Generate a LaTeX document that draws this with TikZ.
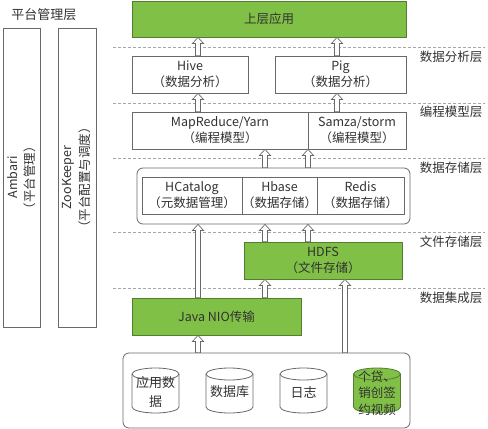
\documentclass[tikz,border=0pt]{standalone}
\usepackage{fontspec}
\setmainfont{Noto Sans CJK SC}
\usetikzlibrary{calc}
\definecolor{gfill}{RGB}{128,192,70}
\definecolor{gline}{RGB}{85,125,50}
\definecolor{bline}{RGB}{105,105,105}
\definecolor{txt}{RGB}{50,50,50}
\definecolor{dashc}{RGB}{165,165,165}
\newcommand\mycyl[2]{%
  \draw[draw=#2line, fill=#2fill, line width=0.8pt] (#1-23.5,374) -- (#1-23.5,407) arc (180:360:23.5pt and 6pt) -- (#1+23.5,374) arc (0:180:23.5pt and 6pt) -- cycle;
  \draw[draw=#2line, line width=0.8pt] (#1-23.5,374) arc (180:360:23.5pt and 6pt);}
\definecolor{wfill}{RGB}{255,255,255}
\definecolor{wline}{RGB}{105,105,105}
\begin{document}
\begin{tikzpicture}[x=1pt,y=-1pt, font=\fontsize{12.5}{16}\selectfont, text=txt,
  box/.style={draw=bline, line width=0.8pt, fill=white, inner sep=0pt, align=center},
  gbox/.style={box, draw=gline, fill=gfill},
  layerlabel/.style={inner sep=0pt, font=\fontsize{12.5}{13}\selectfont},
  sepline/.style={draw=dashc, dash pattern=on 3pt off 2pt, line width=0.7pt},
  harrow/.style={draw=bline, fill=white, line width=0.7pt,
    to path={let \p1=(\tikztostart), \p2=(\tikztotarget) in
      (\x1-2.5pt,\y1) -- (\x1-2.5pt,\y2-6pt) -- (\x1-5.5pt,\y2-6pt) -- (\x1,\y2)
      -- (\x1+5.5pt,\y2-6pt) -- (\x1+2.5pt,\y2-6pt) -- (\x1+2.5pt,\y1) -- cycle}}
]
\useasboundingbox (0,0) rectangle (488,429);

% separators
\draw[sepline] (113,47) -- (485,47);
\draw[sepline] (113,103) -- (485,103);
\draw[sepline] (113,158) -- (485,158);
\draw[sepline] (113,232) -- (485,232);
\draw[sepline] (113,288) -- (485,288);

% layer labels
\node[layerlabel] (l1) at (451,57) {数据分析层};
\node[layerlabel] (l2) at (451,112) {编程模型层};
\node[layerlabel] (l3) at (451,168) {数据存储层};
\node[layerlabel] (l4) at (451,242) {文件存储层};
\node[layerlabel] (l5) at (451,298) {数据集成层};

% platform management
\node[layerlabel, font=\fontsize{13}{14}\selectfont] (title) at (44,15) {平台管理层};
\node[box, rotate=90, minimum width=299, minimum height=37, font=\fontsize{12.5}{17}\selectfont] (ambari) at (21.5,177.5) {Ambari\\（平台管理）};
\node[box, rotate=90, minimum width=299, minimum height=38, font=\fontsize{12.5}{18}\selectfont] (zk) at (77,177.5) {ZooKeeper\\（平台配置与调度）};

% main stack
\node[gbox, minimum width=274, minimum height=36] (app) at (269,19) {上层应用};
\node[box, minimum width=116, minimum height=37] (hive) at (190,74.5) {Hive\\（数据分析）};
\node[box, minimum width=131, minimum height=37] (pig) at (340.5,74.5) {Pig\\（数据分析）};
\node[box, minimum width=176, minimum height=37] (mr) at (220,130.5) {MapReduce/Yarn\\（编程模型）};
\node[box, minimum width=98, minimum height=37] (samza) at (357,130.5) {Samza/storm\\（编程模型）};

\node[box, rounded corners=6pt, minimum width=273, minimum height=56] (store) at (273.5,196) {};
\node[box, minimum width=100, minimum height=37] (hcat) at (192,195.5) {HCatalog\\（元数据管理）};
\node[box, minimum width=75, minimum height=37] (hbase) at (279.5,195.5) {Hbase\\（数据存储）};
\node[box, minimum width=87, minimum height=37] (redis) at (360.5,195.5) {Redis\\（数据存储）};

\node[gbox, minimum width=158, minimum height=37] (hdfs) at (323,260.5) {HDFS\\（文件存储）};
\node[gbox, minimum width=169, minimum height=37] (java) at (216.5,316.5) {Java NIO传输};

\node[box, rounded corners=6pt, minimum width=287, minimum height=75] (src) at (266.5,390.5) {};

% cylinders
\mycyl{155.5}{w}
\mycyl{229.5}{w}
\mycyl{303.5}{w}
\mycyl{377}{g}
\node[align=center, inner sep=0pt, font=\fontsize{13}{19}\selectfont] (c1) at (155.5,392) {应用数\\据};
\node[align=center, inner sep=0pt, font=\fontsize{13}{16}\selectfont] (c2) at (229.5,392) {数据库};
\node[align=center, inner sep=0pt, font=\fontsize{13}{16}\selectfont] (c3) at (303.5,392) {日志};
\node[align=center, inner sep=0pt, font=\fontsize{12.5}{16.5}\selectfont] (c4) at (377,393) {个贷、\\销创签\\约视频};

% arrow columns
\coordinate (xa) at (198,0);
\coordinate (xb) at (337,0);
\coordinate (xc) at (265,0);
\coordinate (xd) at (308,0);
\coordinate (xe) at (345,0);

\path[harrow] (hive.north -| xa) to (app.south -| xa);
\path[harrow] (pig.north -| xb) to (app.south -| xb);
\path[harrow] (mr.north -| xa) to (hive.south -| xa);
\path[harrow] (samza.north -| xb) to (pig.south -| xb);
\path[harrow] (store.north -| xc) to (mr.south -| xc);
\path[harrow] (store.north -| xd) to (samza.south -| xd);
\path[harrow] (java.north -| xa) to (store.south -| xa);
\path[harrow] (hdfs.north -| xc) to (store.south -| xc);
\path[harrow] (hdfs.north -| xd) to (store.south -| xd);
\path[harrow] (java.north -| xc) to (hdfs.south -| xc);
\path[harrow] (src.north -| xa) to (java.south -| xa);
\path[harrow] (src.north -| xe) to (hdfs.south -| xe);
\end{tikzpicture}
\end{document}
